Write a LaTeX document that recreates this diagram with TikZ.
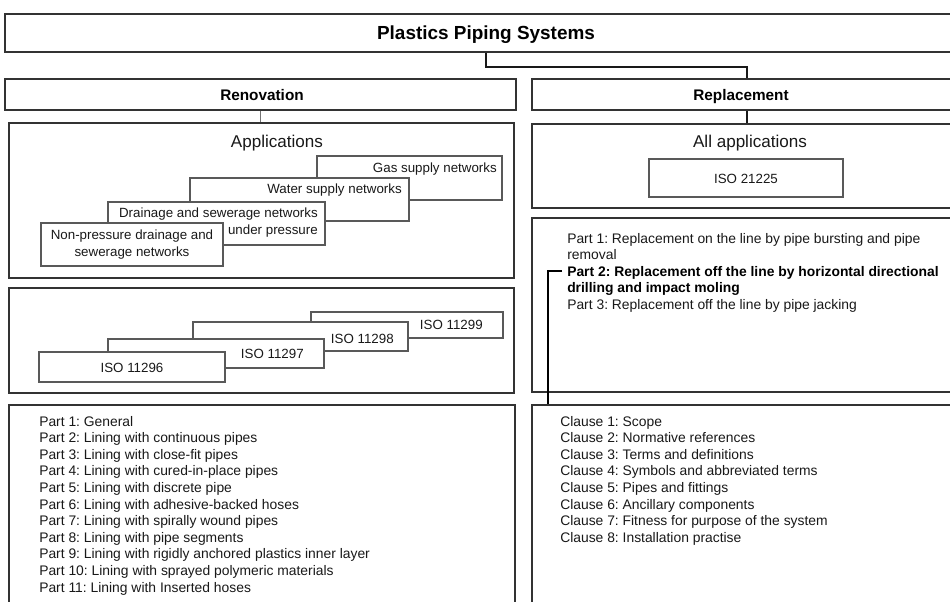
\documentclass[tikz,border=0pt]{standalone}
\usepackage{fontspec}
\setmainfont{Liberation Sans}
\usetikzlibrary{fit}
\frenchspacing
\begin{document}
\begin{tikzpicture}[x=0.75pt,y=-0.75pt,
  outer/.style={draw=black!80, line width=1.1pt, fill=white, inner sep=0pt},
  inbox/.style={draw=black!65, line width=0.8pt, fill=white, inner sep=0pt},
  conn/.style={draw=black!90, line width=1.6pt},
  thickconn/.style={draw=black, line width=1.9pt},
  thinconn/.style={draw=black!55, line width=0.6pt},
  txt/.style={inner sep=0pt, text=black!90, font=\fontsize{10}{12.45}\selectfont},
  ltxt/.style={inner sep=0pt, text=black!90, font=\fontsize{10.4}{12.45}\selectfont},
  btxt/.style={inner sep=0pt, text=black, font=\fontsize{10.4}{12.45}\selectfont\bfseries},
  head/.style={inner sep=0pt, text=black, font=\fontsize{11.5}{14}\selectfont\bfseries},
  sub/.style={inner sep=0pt, text=black!90, font=\fontsize{12.8}{15}\selectfont}]
\useasboundingbox (0,0) rectangle (950,601);
\clip (0,0) rectangle (950,601);
\fill[white] (0,0) rectangle (950,601);

% top level
\node[outer, fit={(5,14) (967,52)}] (top) {};
\node[inner sep=0pt, font=\fontsize{14.2}{17}\selectfont\bfseries, anchor=base] (ttop) at (486,39) {Plastics Piping Systems};

\node[outer, fit={(5,79) (516,110)}] (ren) {};
\node[head, anchor=base] (tren) at (262,100) {Renovation};
\node[outer, fit={(532,79) (962,110)}] (rep) {};
\node[head, anchor=base] (trep) at (741,100) {Replacement};

% left column
\node[outer, fit={(9,123) (514,278)}] (app) {};
\node[sub, anchor=base] (tapp) at (277,147) {Applications};
\node[inbox, fit={(317,156) (502,200)}] (gas) {};
\node[txt, anchor=base east] (tgas) at (497,172) {Gas supply networks};
\node[inbox, fit={(190,178) (409,221)}] (water) {};
\node[txt, anchor=base east] (twater) at (402,193) {Water supply networks};
\node[inbox, fit={(108,202) (325,245)}] (drain) {};
\node[txt, anchor=base east] (tdrain1) at (318,217) {Drainage and sewerage networks};
\node[txt, anchor=base east] (tdrain2) at (318,234) {under pressure};
\node[inbox, fit={(41,223) (223,266)}] (nonp) {};
\node[txt, anchor=base] (tnonp1) at (132,239) {Non-pressure drainage and};
\node[txt, anchor=base] (tnonp2) at (132,256) {sewerage networks};

\node[outer, fit={(9,288) (514,393)}] (iso) {};
\node[inbox, fit={(311,312) (503,338)}] (i99) {};
\node[txt, anchor=base east] (ti99) at (483,329) {ISO 11299};
\node[inbox, fit={(193,322) (408,351)}] (i98) {};
\node[txt, anchor=base east] (ti98) at (394,343) {ISO 11298};
\node[inbox, fit={(108,339) (324,368)}] (i97) {};
\node[txt, anchor=base east] (ti97) at (304,358) {ISO 11297};
\node[inbox, fit={(39,352) (225,382)}] (i96) {};
\node[txt, anchor=base] (ti96) at (132,372) {ISO 11296};

\node[outer, fit={(9,405) (515,615)}] (parts) {};
\foreach \t [count=\i] in {Part 1: General,
  Part 2: Lining with continuous pipes,
  Part 3: Lining with close-fit pipes,
  Part 4: Lining with cured-in-place pipes,
  Part 5: Lining with discrete pipe,
  Part 6: Lining with adhesive-backed hoses,
  Part 7: Lining with spirally wound pipes,
  Part 8: Lining with pipe segments,
  Part 9: Lining with rigidly anchored plastics inner layer,
  Part 10: Lining with sprayed polymeric materials,
  Part 11: Lining with Inserted hoses}
  \node[ltxt, anchor=base west] (lp\i) at (39,{426+16.6*(\i-1)}) {\t};

% right column
\node[outer, fit={(532,124) (962,208)}] (allapp) {};
\node[sub, anchor=base] (tallapp) at (750,147) {All applications};
\node[inbox, fit={(649,159) (843,197)}] (i225) {};
\node[txt, anchor=base] (ti225) at (746,183) {ISO 21225};

\node[outer, fit={(532,218) (962,392)}] (rparts) {};
\node[ltxt, anchor=base west] (rp1a) at (567,243) {Part 1: Replacement on the line by pipe bursting and pipe};
\node[ltxt, anchor=base west] (rp1b) at (567,259.5) {removal};
\node[btxt, anchor=base west] (rp2a) at (567,276) {Part 2: Replacement off the line by horizontal directional};
\node[btxt, anchor=base west] (rp2b) at (567,292.5) {drilling and impact moling};
\node[ltxt, anchor=base west] (rp3) at (567,309) {Part 3: Replacement off the line by pipe jacking};

\node[outer, fit={(532,405) (962,615)}] (clause) {};
\foreach \t [count=\i] in {Clause 1: Scope,
  Clause 2: Normative references,
  Clause 3: Terms and definitions,
  Clause 4: Symbols and abbreviated terms,
  Clause 5: Pipes and fittings,
  Clause 6: Ancillary components,
  Clause 7: Fitness for purpose of the system,
  Clause 8: Installation practise}
  \node[ltxt, anchor=base west] (lc\i) at (560,{426+16.6*(\i-1)}) {\t};

% connectors
\draw[conn] (top.south) -- ++(0,14) -| (rep.north);
\draw[thinconn] (ren.south) -- (ren.south |- app.north);
\draw[conn] (rep.south) -- (rep.south |- allapp.north);
\coordinate (p2) at (562,271);
\draw[thickconn] (p2) -- ++(-14,0) coordinate (bend) -- (bend |- clause.north);
\end{tikzpicture}
\end{document}
